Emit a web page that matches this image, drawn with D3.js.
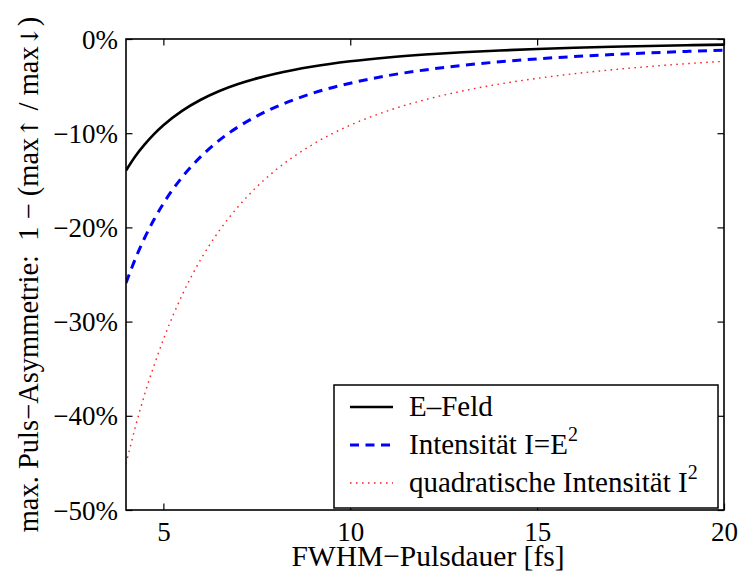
<!DOCTYPE html>
<html><head><meta charset="utf-8">
<script src="https://cdn.jsdelivr.net/npm/d3@7"></script>
<style>body{margin:0;background:#fff}svg{display:block}text{font-family:"Liberation Serif","Times New Roman",serif;fill:#000}</style>
</head><body>
<svg id="c" width="739" height="572"></svg>
<script>
// Pulse duration (FWHM, fs)
const pulseDuration = [4, 4.25, 4.5, 4.75, 5, 5.5, 6, 6.5, 7, 7.5, 8, 9, 10, 11, 12, 13, 14, 15, 16, 17, 18, 19, 20];
// Asymmetry in percent
const eFeld        = [-13.96, -12.44, -11.18, -10.09, -9.15, -7.63, -6.45, -5.52, -4.78, -4.18, -3.68, -2.92, -2.37, -1.96, -1.65, -1.41, -1.22, -1.06, -0.93, -0.83, -0.74, -0.66, -0.60];
const intensitaet  = [-25.9, -23.33, -21.1, -19.17, -17.47, -14.67, -12.49, -10.74, -9.33, -8.18, -7.23, -5.75, -4.69, -3.89, -3.28, -2.80, -2.42, -2.11, -1.86, -1.65, -1.47, -1.32, -1.19];
const quadIntens   = [-45.1, -41.2, -37.7, -34.66, -31.9, -27.2, -23.4, -20.32, -17.8, -15.69, -13.93, -11.18, -9.15, -7.63, -6.45, -5.52, -4.78, -4.18, -3.68, -3.27, -2.92, -2.62, -2.37];
const xTicks = [5, 10, 15, 20];
const yTicks = [0, -10, -20, -30, -40, -50];
const seriesNames = ["E\u2013Feld", "Intensität I=E", "quadratische Intensität I"];

const SERIF = '"Liberation Serif", "Times New Roman", serif';
const svg = d3.select("#c");
const L = 126, R = 724, T = 39, B = 510;
const x = d3.scaleLinear().domain([4, 20]).range([L, R]);
const y = d3.scaleLinear().domain([-50, 0]).range([B, T]);

const series = [
  {vals: eFeld, color: "#000", width: 2.6, dash: null},
  {vals: intensitaet, color: "#0000ff", width: 3, dash: "9,6.5"},
  {vals: quadIntens, color: "#ff2020", width: 1.4, dash: "1.6,4.4"}
];

const clipId = "clipA";
svg.append("clipPath").attr("id", clipId).append("rect").attr("x", L).attr("y", T).attr("width", R-L).attr("height", B-T);

const line = d3.line().curve(d3.curveMonotoneX);
series.forEach(s => {
  svg.append("path")
    .attr("clip-path", `url(#${clipId})`)
    .attr("d", line(pulseDuration.map((t,i) => [x(t), y(s.vals[i])])))
    .attr("fill", "none").attr("stroke", s.color).attr("stroke-width", s.width)
    .attr("stroke-dasharray", s.dash);
});

// axes with inward ticks on all four sides
const fmtY = d => (d === 0 ? "0" : "\u2212" + Math.abs(d)) + "%";
const gB = svg.append("g").attr("transform", `translate(0,${B})`)
  .call(d3.axisBottom(x).tickValues(xTicks).tickSizeInner(-6.5).tickSizeOuter(0).tickPadding(12));
const gT = svg.append("g").attr("transform", `translate(0,${T})`)
  .call(d3.axisTop(x).tickValues(xTicks).tickSizeInner(-6.5).tickSizeOuter(0).tickFormat(""));
const gL = svg.append("g").attr("transform", `translate(${L},0)`)
  .call(d3.axisLeft(y).tickValues(yTicks).tickSizeInner(-6.5).tickSizeOuter(0).tickPadding(8).tickFormat(fmtY));
const gR = svg.append("g").attr("transform", `translate(${R},0)`)
  .call(d3.axisRight(y).tickValues(yTicks).tickSizeInner(-6.5).tickSizeOuter(0).tickFormat(""));
[gB, gT, gL, gR].forEach(g => {
  g.attr("font-family", null).attr("font-size", null);
  g.select(".domain").remove();
  g.selectAll(".tick line").attr("stroke", "#000").attr("stroke-width", 1.2);
  g.selectAll("text").style("font-family", SERIF).style("font-size", "27px").attr("fill", "#000");
});
gB.selectAll(".tick text").attr("dy", "0.71em");
gL.selectAll(".tick text").attr("dy", "0.34em");

// legend
const lg = svg.append("g");
lg.append("rect").attr("x", 334).attr("y", 385).attr("width", 384).attr("height", 123)
  .attr("fill", "#fff").attr("stroke", "#000").attr("stroke-width", 1.5);
const rowY = [407, 445, 483];
series.forEach((s, i) => {
  lg.append("line").attr("x1", 350).attr("x2", 393).attr("y1", rowY[i]).attr("y2", rowY[i])
    .attr("stroke", s.color).attr("stroke-width", s.width).attr("stroke-dasharray", s.dash);
  const t = lg.append("text").attr("x", 409).attr("y", rowY[i] + 9).style("font-size", "29px").text(seriesNames[i]);
  if (i > 0) t.append("tspan").style("font-size", "20px").attr("dy", -13).text("2");
});

// frame
svg.append("rect").attr("x", L).attr("y", T).attr("width", R-L).attr("height", B-T)
  .attr("fill", "none").attr("stroke", "#000").attr("stroke-width", 1.6);

// axis labels
svg.append("text").attr("x", (L+R)/2 + 3).attr("y", 566).attr("text-anchor", "middle").style("font-size", "29.5px")
  .text("FWHM\u2212Pulsdauer [fs]");
const yl = svg.append("text").attr("transform", `translate(38,${(T+B)/2}) rotate(-90)`).attr("text-anchor", "middle")
  .style("font-size", "28.5px").style("white-space", "pre");
yl.append("tspan").text("max. Puls\u2212Asymmetrie:  1 \u2212 (max");
yl.append("tspan").style("font-family", '"DejaVu Serif", serif').style("font-size", "24px").text("\u2191");
yl.append("tspan").text(" / max");
yl.append("tspan").style("font-family", '"DejaVu Serif", serif').style("font-size", "24px").text("\u2193");
yl.append("tspan").text(")");
</script>
</body></html>
